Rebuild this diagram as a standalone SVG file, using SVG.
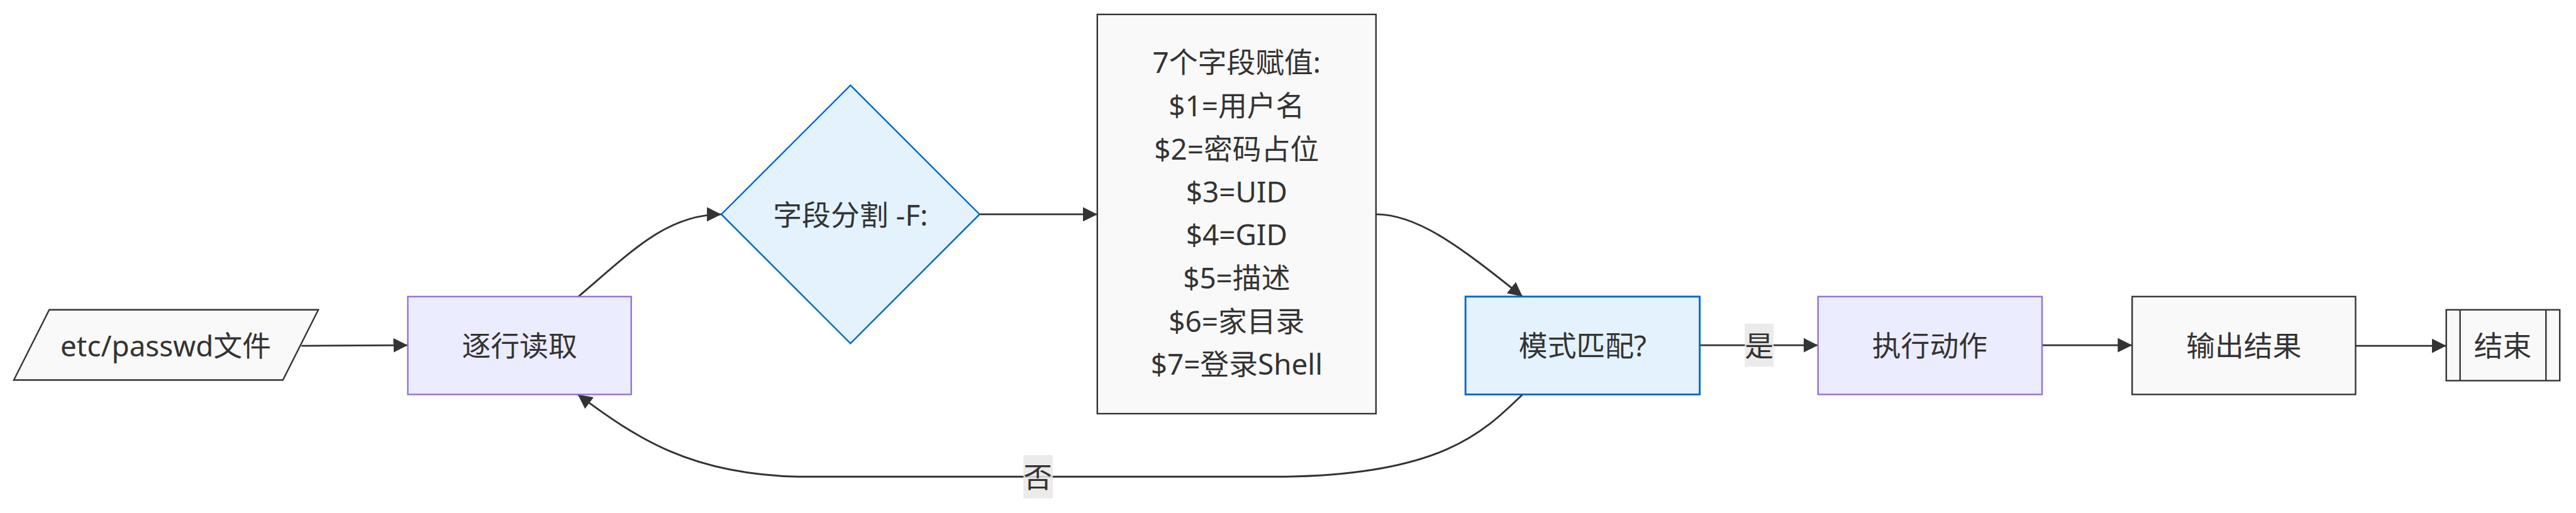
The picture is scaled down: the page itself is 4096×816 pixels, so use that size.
<svg xmlns="http://www.w3.org/2000/svg" width="4096" height="816" viewBox="0 0 4096 816">
  <style>
    .lbl { font-family: "Noto Sans", "Noto Sans CJK SC", sans-serif; font-size: 48px; fill: #333333; text-anchor: middle; dominant-baseline: central; }
    .plain { fill: #f9f9f9; stroke: #333333; stroke-width: 2.5; }
    .purple { fill: #ECECFF; stroke: #9370DB; stroke-width: 2.5; }
    .blue { fill: #E3F2FD; stroke: #0066CC; stroke-width: 3; }
    .edge { fill: none; stroke: #333333; stroke-width: 3; marker-end: url(#arrow); }
    .ebg { fill: #e8e8e8; fill-opacity: 0.85; }
  </style>
  <defs>
    <marker id="arrow" markerUnits="userSpaceOnUse" markerWidth="24" markerHeight="24" refX="24" refY="12" orient="auto" viewBox="0 0 24 24">
      <path d="M0,0 L24,12 L0,24 z" fill="#333333"/>
    </marker>
  </defs>
  <rect width="4096" height="816" fill="#ffffff"/>
  <g transform="scale(0.955)">
    <g id="connectors">
      <path id="e1" class="edge" d="M502,576 L679,575"/>
      <path id="e2" class="edge" d="M963,494 C1050,420 1110,357 1201,357"/>
      <path id="e3" class="edge" d="M1631,357 L1827,357"/>
      <path id="e4" class="edge" d="M2291,357 C2360,357 2430,410 2535,494"/>
      <path id="e5" class="edge" d="M2830,575 L3027,575"/>
      <path id="e6" class="edge" d="M3400,575 L3550,575"/>
      <path id="e7" class="edge" d="M3922,576 L4073,576"/>
      <path id="e8" class="edge" d="M2535,657 C2470,720 2400,790 2140,794 L1330,794 C1150,790 1060,730 962,657"/>
      <g id="label-yes">
        <rect class="ebg" x="2905" y="539" width="48" height="72"/>
        <text class="lbl" x="2929" y="575">是</text>
      </g>
      <g id="label-no">
        <rect class="ebg" x="1704" y="758" width="49" height="72"/>
        <text class="lbl" x="1728" y="794">否</text>
      </g>
    </g>
    <g id="node-input">
      <polygon class="plain" points="82,516 530,516 471,633 23,633"/>
      <text class="lbl" x="276" y="575">etc/passwd文件</text>
    </g>
    <g id="node-read">
      <rect class="purple" x="679" y="494" width="372" height="163"/>
      <text class="lbl" x="865" y="575">逐行读取</text>
    </g>
    <g id="node-split">
      <polygon class="blue" style="stroke-width:2.5" points="1416,142 1631,357 1416,572 1201,357"/>
      <text class="lbl" x="1416" y="357">字段分割 -F:</text>
    </g>
    <g id="node-fields">
      <rect class="plain" x="1827" y="24" width="464" height="665"/>
      <text class="lbl" x="2059" y="103">7个字段赋值:</text>
      <text class="lbl" x="2059" y="175">$1=用户名</text>
      <text class="lbl" x="2059" y="247">$2=密码占位</text>
      <text class="lbl" x="2059" y="318">$3=UID</text>
      <text class="lbl" x="2059" y="390">$4=GID</text>
      <text class="lbl" x="2059" y="462">$5=描述</text>
      <text class="lbl" x="2059" y="534">$6=家目录</text>
      <text class="lbl" x="2059" y="605">$7=登录Shell</text>
    </g>
    <g id="node-match">
      <rect class="blue" x="2440" y="494" width="390" height="163"/>
      <text class="lbl" x="2635" y="575">模式匹配?</text>
    </g>
    <g id="node-action">
      <rect class="purple" x="3027" y="494" width="373" height="163"/>
      <text class="lbl" x="3213" y="575">执行动作</text>
    </g>
    <g id="node-output">
      <rect class="plain" x="3550" y="494" width="372" height="163"/>
      <text class="lbl" x="3736" y="575">输出结果</text>
    </g>
    <g id="node-end">
      <rect class="plain" x="4073" y="516" width="189" height="118"/>
      <line x1="4096" y1="516" x2="4096" y2="634" stroke="#333333" stroke-width="2.5"/>
      <line x1="4239" y1="516" x2="4239" y2="634" stroke="#333333" stroke-width="2.5"/>
      <text class="lbl" x="4167" y="575">结束</text>
    </g>
  </g>
</svg>
